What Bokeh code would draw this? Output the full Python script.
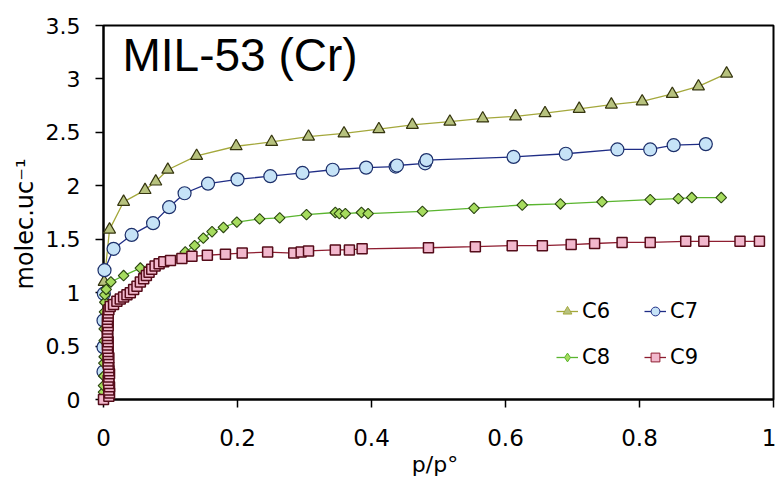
import math
from bokeh.plotting import figure
from bokeh.models import Range1d, Legend, LegendItem, Label, FixedTicker
from bokeh.embed import file_html
from bokeh.resources import INLINE

# ---------------- data ----------------
c6_x = [0.001, 0.009, 0.030, 0.062, 0.078, 0.096, 0.139, 0.198, 0.251, 0.306, 0.359, 0.411,
        0.461, 0.517, 0.566, 0.615, 0.659, 0.710, 0.758, 0.804, 0.849, 0.888, 0.930]
c6_y = [1.10, 1.59, 1.85, 1.96, 2.04, 2.15, 2.28, 2.37, 2.41, 2.46, 2.49, 2.53,
        2.57, 2.60, 2.63, 2.65, 2.68, 2.72, 2.76, 2.79, 2.86, 2.93, 3.05]

c7_x = [0.0, 0.0, 0.0, 0.0005, 0.0015, 0.015, 0.042, 0.074, 0.098, 0.121, 0.156, 0.200, 0.249,
        0.297, 0.342, 0.392, 0.436, 0.438, 0.480, 0.482, 0.612, 0.690, 0.767, 0.816, 0.851, 0.899]
c7_y = [0.26, 0.49, 0.74, 0.99, 1.21, 1.41, 1.54, 1.65, 1.80, 1.93, 2.02, 2.06, 2.09,
        2.12, 2.15, 2.17, 2.18, 2.19, 2.21, 2.24, 2.27, 2.30, 2.34, 2.34, 2.38, 2.39]

c8_x = [0.0, 0.0, 0.0005, 0.0005, 0.001, 0.001, 0.001, 0.0015, 0.002, 0.002, 0.004, 0.011,
        0.030, 0.055, 0.122, 0.136, 0.149, 0.162, 0.179, 0.199, 0.233, 0.263, 0.303, 0.346,
        0.352, 0.361, 0.385, 0.395, 0.476, 0.553, 0.625, 0.682, 0.744, 0.816, 0.858, 0.878, 0.922]
c8_y = [0.07, 0.13, 0.22, 0.34, 0.40, 0.55, 0.66, 0.82, 0.91, 0.98, 1.03, 1.10,
        1.16, 1.23, 1.38, 1.44, 1.51, 1.57, 1.61, 1.66, 1.69, 1.70, 1.73, 1.75,
        1.74, 1.74, 1.75, 1.74, 1.76, 1.79, 1.82, 1.83, 1.85, 1.87, 1.88, 1.89, 1.89]

c9_x = [0.0, 0.008, 0.009, 0.008, 0.009, 0.008, 0.007, 0.008, 0.009, 0.008, 0.008, 0.007,
        0.007, 0.008, 0.007, 0.007, 0.006, 0.006, 0.007, 0.006, 0.006, 0.006, 0.006, 0.007,
        0.006, 0.006, 0.007, 0.007, 0.008, 0.010,
        0.015, 0.020, 0.025, 0.030, 0.035, 0.040, 0.045, 0.050, 0.055, 0.060, 0.064, 0.068,
        0.072, 0.077, 0.083, 0.090, 0.100, 0.117, 0.132, 0.155, 0.182, 0.207, 0.245, 0.284,
        0.295, 0.306, 0.346, 0.367, 0.386, 0.485, 0.555, 0.610, 0.655, 0.698, 0.733, 0.774,
        0.816, 0.869, 0.896, 0.950, 0.979]
c9_y = [0.0, 0.03, 0.06, 0.09, 0.12, 0.15, 0.18, 0.21, 0.24, 0.27, 0.30, 0.33,
        0.36, 0.39, 0.42, 0.45, 0.48, 0.51, 0.54, 0.57, 0.60, 0.63, 0.66, 0.69,
        0.72, 0.75, 0.78, 0.81, 0.84, 0.87,
        0.89, 0.92, 0.94, 0.96, 0.98, 1.00, 1.03, 1.06, 1.10, 1.13, 1.16, 1.19,
        1.22, 1.25, 1.27, 1.29, 1.30, 1.32, 1.34, 1.35, 1.36, 1.37, 1.38, 1.37,
        1.38, 1.39, 1.40, 1.40, 1.41, 1.42, 1.43, 1.44, 1.44, 1.45, 1.46, 1.47,
        1.47, 1.48, 1.48, 1.48, 1.48]

series_names = ["C6", "C7", "C8", "C9"]
x_ticks = [0, 0.2, 0.4, 0.6, 0.8, 1.0]
x_tick_labels = ["0", "0.2", "0.4", "0.6", "0.8", "1"]
y_ticks = [0, 0.5, 1.0, 1.5, 2.0, 2.5, 3.0, 3.5]
y_tick_labels = ["0", "0.5", "1", "1.5", "2", "2.5", "3", "3.5"]
title_text = "MIL-53 (Cr)"
x_label = "p/p°"
y_label = "molec.uc⁻¹"

FONT = "Liberation Sans"
WIDE = "DejaVu Sans"
NBSP = "\u00a0"

p = figure(width=776, height=479, output_backend="svg", toolbar_location=None,
           x_range=Range1d(0, 1.0), y_range=Range1d(0, 3.5))
p.min_border_left = 103
p.min_border_right = 3
p.min_border_top = 25
p.min_border_bottom = 78
p.grid.visible = False
p.background_fill_color = "white"
p.border_fill_color = "white"
p.outline_line_color = "black"
p.outline_line_width = 2

for ax in (p.xaxis[0], p.yaxis[0]):
    ax.axis_line_color = "black"
    ax.axis_line_width = 2
    ax.major_tick_line_color = "black"
    ax.major_tick_line_width = 1.5
    ax.major_tick_in = 0
    ax.major_tick_out = 8
    ax.minor_tick_line_color = None
    ax.major_label_text_font = WIDE
    ax.major_label_text_color = "black"
    ax.axis_label_text_font = WIDE
    ax.axis_label_text_font_style = "normal"
    ax.axis_label_text_color = "black"

p.xaxis.ticker = FixedTicker(ticks=x_ticks)
p.xaxis.major_label_overrides = {t: l for t, l in zip(x_ticks, x_tick_labels)}
p.xaxis.major_label_text_font_size = "23px"
p.xaxis.major_label_standoff = 21
p.xaxis.axis_label = x_label + NBSP
p.xaxis.axis_label_text_font_size = "22px"
p.xaxis.axis_label_standoff = 3

p.yaxis.ticker = FixedTicker(ticks=y_ticks)
p.yaxis.major_label_overrides = {t: l for t, l in zip(y_ticks, y_tick_labels)}
p.yaxis.major_label_text_font_size = "22px"
p.yaxis.major_label_standoff = 15
p.yaxis.axis_label = y_label + NBSP * 3
p.yaxis.axis_label_text_font_size = "24px"
p.yaxis.axis_label_standoff = 4

styles = [
    dict(xs=c6_x, ys=c6_y, line="#a4a83c", fill="#b7c27e", edge="#34340e", marker="triangle", size=12, angle=0.0,
         lmarker="triangle", lsize=10, ew=1.2),
    dict(xs=c7_x, ys=c7_y, line="#1f2d86", fill="#c6e3f7", edge="#1c2f6a", marker="circle", size=13, angle=0.0,
         lmarker="circle", lsize=10, ew=1.2),
    dict(xs=c8_x, ys=c8_y, line="#5ab52f", fill="#a6dc5e", edge="#2a4410", marker="square", size=7.5, angle=math.pi / 4,
         lmarker="diamond", lsize=11, ew=1.1),
    dict(xs=c9_x, ys=c9_y, line="#8e1d30", fill="#f2b8cd", edge="#550c1a", marker="square", size=10, angle=0.0,
         lmarker="square", lsize=9, ew=1.5),
]

items = []
for name, s in zip(series_names, styles):
    lr = p.line(s["xs"], s["ys"], line_color=s["line"], line_width=1.3)
    sr = p.scatter(s["xs"], s["ys"], marker=s["marker"], size=s["size"], angle=s["angle"],
                   fill_color=s["fill"], line_color=s["edge"], line_width=s["ew"])
    sr.level = "overlay"
    # hidden renderer used only for the legend key glyph
    kr = p.scatter(s["xs"], s["ys"], marker=s["lmarker"], size=s["lsize"],
                   fill_color=s["fill"], line_color=s["line"], line_width=1.0, visible=False)
    items.append(LegendItem(label=name, renderers=[lr, kr]))

def make_legend(its, loc):
    return Legend(items=its, location=loc, orientation="horizontal",
                  label_text_font=WIDE, label_text_font_size="21px",
                  label_text_color="black", glyph_width=22, glyph_height=22,
                  label_height=22, label_standoff=4, spacing=34,
                  padding=0, margin=0, border_line_color=None,
                  background_fill_alpha=0)

p.add_layout(make_legend(items[0:2], (453, 76)))
p.add_layout(make_legend(items[2:4], (453, 30)))

p.add_layout(Label(x=19, y=345, x_units="screen", y_units="screen", text=title_text,
                   text_font=FONT, text_font_size="46px", text_color="black",
                   text_baseline="alphabetic"))

open("out.html", "w").write(file_html(p, INLINE))
